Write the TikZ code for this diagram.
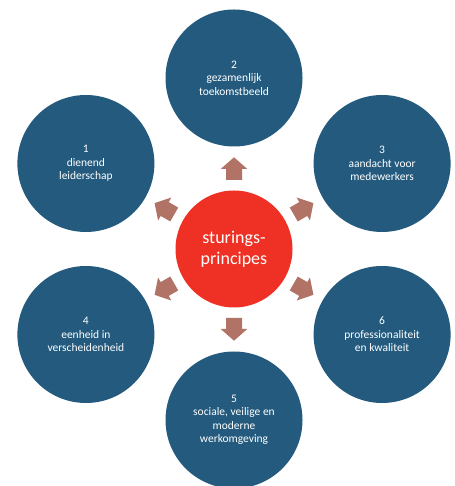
\documentclass[tikz,border=0pt]{standalone}
\usepackage{fontspec}
\setmainfont{Carlito}
\definecolor{bluec}{HTML}{235A7D}
\definecolor{redc}{HTML}{EE3124}
\definecolor{arrowc}{HTML}{B07366}
\begin{document}
\begin{tikzpicture}[x=1pt,y=1pt,
  outer/.style={circle,fill=bluec,minimum size=137pt,inner sep=0pt,text=white,align=center,font=\fontsize{11.5}{13.5}\selectfont},
  inner/.style={circle,fill=redc,minimum size=117pt,inner sep=0pt,text=white,align=center,font=\fontsize{18}{21}\selectfont},
  arrowshape/.style={fill=arrowc}]
\useasboundingbox (0,0) rectangle (454,486);
\node[inner] (c) at (234,237) {sturings-\\principes};
\node[outer] (n2) at (234,408) {2\\gezamenlijk\\toekomstbeeld};
\node[outer] (n3) at (382.1,322.5) {3\\aandacht voor\\medewerkers};
\node[outer] (n6) at (382.1,151.5) {6\\professionaliteit\\en kwaliteit};
\node[outer] (n5) at (234,66) {5\\sociale, veilige en\\moderne\\werkomgeving};
\node[outer] (n4) at (85.9,151.5) {4\\eenheid in\\verscheidenheid};
\node[outer] (n1) at (85.9,322.5) {1\\dienend\\leiderschap};
\foreach \a in {90,30,-30,-90,-150,150}{
  \fill[arrowshape, shift={(c.center)}, rotate=\a]
    (69,-8) -- (80,-8) -- (80,-13.3) -- (91.7,0) -- (80,13.3) -- (80,8) -- (69,8) -- cycle;
}
\end{tikzpicture}
\end{document}
